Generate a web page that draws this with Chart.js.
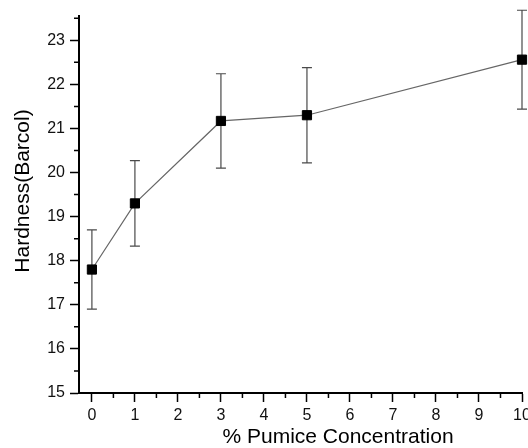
<!DOCTYPE html>
<html>
<head>
<meta charset="utf-8">
<script src="https://cdn.jsdelivr.net/npm/chart.js@4/dist/chart.umd.min.js"></script>
<style>
  html, body { margin: 0; padding: 0; background: #fff; overflow: hidden; }
  #wrap { width: 528px; height: 448px; overflow: hidden; }
</style>
</head>
<body>
<div id="wrap"><canvas id="hardnessChart" width="540" height="448"></canvas></div>
<script>
// data
const pumice = [0, 1, 3, 5, 10];
const hardness = [17.8, 19.3, 21.17, 21.3, 22.56];
const hardnessErr = [0.9, 0.97, 1.07, 1.08, 1.12];
const xTicks = [0, 1, 2, 3, 4, 5, 6, 7, 8, 9, 10];
const yTicks = [15, 16, 17, 18, 19, 20, 21, 22, 23];
const xTitle = '% Pumice Concentration';
const yTitle = 'Hardness(Barcol)';

const FONT = '"Liberation Sans", Arial, sans-serif';

// error bars + minor ticks + axis titles
const extrasPlugin = {
    id: 'extras',
    beforeDatasetsDraw(chart) {
        const ctx = chart.ctx;
        const xs = chart.scales.x, ys = chart.scales.y;
        ctx.save();
        ctx.strokeStyle = '#4a4a4a';
        ctx.lineWidth = 1.2;
        pumice.forEach((p, i) => {
            const px = xs.getPixelForValue(p);
            const top = ys.getPixelForValue(hardness[i] + hardnessErr[i]);
            const bot = ys.getPixelForValue(hardness[i] - hardnessErr[i]);
            ctx.beginPath();
            ctx.moveTo(px, top); ctx.lineTo(px, bot);
            ctx.moveTo(px - 5, top); ctx.lineTo(px + 5, top);
            ctx.moveTo(px - 5, bot); ctx.lineTo(px + 5, bot);
            ctx.stroke();
        });
        ctx.restore();
    },
    afterDraw(chart) {
        const ctx = chart.ctx;
        const xs = chart.scales.x, ys = chart.scales.y;
        const area = chart.chartArea;
        ctx.save();
        ctx.strokeStyle = '#000';
        ctx.lineWidth = 1.5;
        ctx.beginPath();
        for (let i = 0; i < xTicks.length - 1; i++) {
            const px = xs.getPixelForValue(xTicks[i] + 0.5);
            ctx.moveTo(px, area.bottom); ctx.lineTo(px, area.bottom + 5);
        }
        for (let i = 0; i < yTicks.length; i++) {
            const v = yTicks[i] + 0.5;
            if (v > ys.max) continue;
            const py = ys.getPixelForValue(v);
            ctx.moveTo(area.left, py); ctx.lineTo(area.left - 5, py);
        }
        ctx.stroke();

        ctx.fillStyle = '#000';
        ctx.font = '21px ' + FONT;
        ctx.textAlign = 'center';
        ctx.textBaseline = 'middle';
        ctx.fillText(xTitle, 338, 437);
        ctx.translate(23, 191);
        ctx.rotate(-Math.PI / 2);
        ctx.fillText(yTitle, 0, 0);
        ctx.restore();
    }
};

new Chart(document.getElementById('hardnessChart'), {
    type: 'line',
    data: {
        datasets: [{
            data: pumice.map((p, i) => ({ x: p, y: hardness[i] })),
            borderColor: '#666',
            borderWidth: 1.2,
            pointStyle: 'rect',
            pointRadius: 6.5,
            pointBackgroundColor: '#000',
            pointBorderColor: '#000',
            pointBorderWidth: 1,
            tension: 0,
            clip: false
        }]
    },
    options: {
        responsive: false,
        animation: false,
        devicePixelRatio: 1,
        layout: { padding: { top: 16, right: 18, left: 0, bottom: 0 } },
        plugins: { legend: { display: false }, tooltip: { enabled: false } },
        scales: {
            x: {
                type: 'linear',
                min: -0.3,
                max: 10,
                afterBuildTicks(scale) { scale.ticks = xTicks.map(v => ({ value: v })); },
                afterFit(scale) { scale.height = 55; },
                border: { display: true, color: '#000', width: 2 },
                grid: { drawOnChartArea: false, drawTicks: true, tickLength: 9, tickColor: '#000', tickWidth: 1.5 },
                ticks: { color: '#111', font: { family: FONT, size: 16 }, padding: 4, maxRotation: 0 }
            },
            y: {
                type: 'linear',
                min: 15,
                max: 23.55,
                afterBuildTicks(scale) { scale.ticks = yTicks.map(v => ({ value: v })); },
                afterFit(scale) { scale.width = 79; },
                border: { display: true, color: '#000', width: 2 },
                grid: { drawOnChartArea: false, drawTicks: true, tickLength: 9, tickColor: '#000', tickWidth: 1.5 },
                ticks: { color: '#111', font: { family: FONT, size: 16 }, padding: 5 }
            }
        }
    },
    plugins: [extrasPlugin]
});
</script>
</body>
</html>
